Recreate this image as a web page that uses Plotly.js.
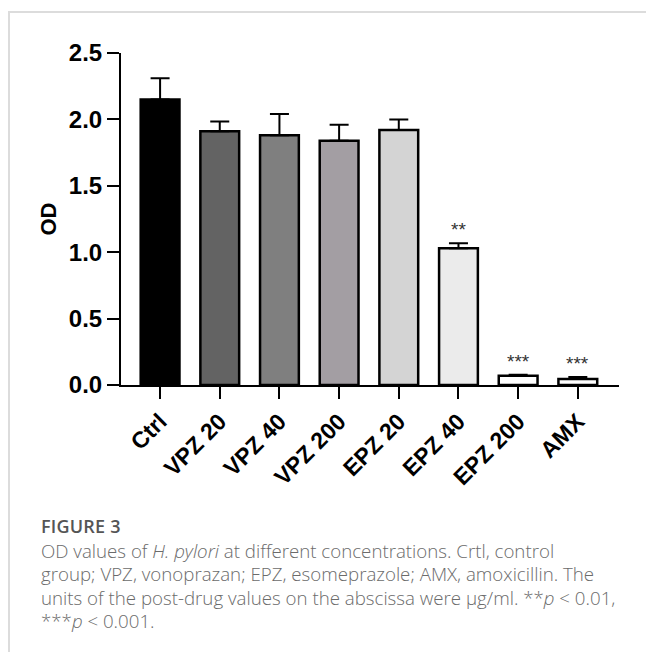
<!DOCTYPE html>
<html>
<head>
<meta charset="utf-8">
<script src="https://cdn.plot.ly/plotly-3.0.1.min.js"></script>
<style>
  html, body { margin: 0; padding: 0; background: #fff; }
  #wrap { position: relative; width: 646px; height: 652px; overflow: hidden; }
  #chart { position: absolute; left: 0; top: 0; width: 646px; height: 652px; }
  .frameTop { position: absolute; left: 9px; top: 11px; width: 637px; height: 2px; background: #dcdcdc; }
  .frameLeft { position: absolute; left: 8px; top: 11px; width: 2px; height: 641px; background: #dcdcdc; }
  #caption { position: absolute; left: 41px; top: 515px; font-family: "Open Sans", Lato, sans-serif; color: #6b6b6b; font-size: 18.7px; line-height: 23.5px; white-space: nowrap; font-weight: 300; }
  #caption .fig { font-weight: 600; color: #555; font-size: 18px; letter-spacing: 0.2px; }
</style>
</head>
<body>
<div id="wrap">
  <div id="chart"></div>
  <div class="frameTop"></div>
  <div class="frameLeft"></div>
  <div id="caption">
    <div class="fig">FIGURE 3</div>
    <div>OD values of <i>H. pylori</i> at different concentrations. Crtl, control</div>
    <div>group; VPZ, vonoprazan; EPZ, esomeprazole; AMX, amoxicillin. The</div>
    <div>units of the post-drug values on the abscissa were µg/ml. **<i>p</i> &lt; 0.01,</div>
    <div>***<i>p</i> &lt; 0.001.</div>
  </div>
</div>
<script>
const categories = ["Ctrl", "VPZ 20", "VPZ 40", "VPZ 200", "EPZ 20", "EPZ 40", "EPZ 200", "AMX"];
const odMean = [2.15, 1.91, 1.88, 1.84, 1.92, 1.03, 0.07, 0.045];
const odSD = [0.16, 0.075, 0.16, 0.12, 0.08, 0.038, 0.008, 0.015];
const significance = ["", "", "", "", "", "**", "***", "***"];
const barColors = ["#000000", "#636363", "#7f7f7f", "#a39ea3", "#d4d4d4", "#ebebeb", "#ffffff", "#ffffff"];

const xIdx = categories.map((c, i) => i);
const fontFam = "Arial, 'Liberation Sans', Helvetica, sans-serif";

const trace = {
  type: "bar",
  x: xIdx,
  y: odMean,
  width: 0.65,
  marker: { color: barColors, line: { color: "#000", width: 2.5 } },
  error_y: {
    type: "data", symmetric: false, array: odSD,
    arrayminus: odSD.map(() => 0),
    color: "#000", thickness: 2, width: 9.5
  },
  hoverinfo: "skip",
  showlegend: false
};

const annotations = [];
categories.forEach((c, i) => {
  if (significance[i]) {
    annotations.push({
      x: i, y: odMean[i] + odSD[i], xref: "x", yref: "y",
      text: significance[i], showarrow: false,
      yanchor: "bottom", yshift: 1,
      font: { family: fontFam, size: 19, color: "#333" }
    });
  }
});

const layout = {
  width: 646, height: 652,
  margin: { l: 121, r: 27, t: 53, b: 267 },
  paper_bgcolor: "rgba(0,0,0,0)",
  plot_bgcolor: "rgba(0,0,0,0)",
  xaxis: {
    range: [-0.655, 7.69],
    tickmode: "array", tickvals: xIdx, ticktext: categories,
    tickangle: -45,
    ticks: "outside", ticklen: 12, tickwidth: 2, tickcolor: "#000",
    showline: true, linecolor: "#000", linewidth: 2,
    showgrid: false, zeroline: false,
    tickfont: { family: fontFam, size: 23, color: "#000", weight: "bold" },
    automargin: false,
    fixedrange: true
  },
  yaxis: {
    range: [0, 2.5],
    tickvals: [0, 0.5, 1.0, 1.5, 2.0, 2.5],
    ticktext: ["0.0", "0.5", "1.0", "1.5", "2.0", "2.5"],
    ticks: "outside", ticklen: 12, tickwidth: 2, tickcolor: "#000",
    showline: true, linecolor: "#000", linewidth: 2,
    showgrid: false, zeroline: false,
    tickfont: { family: fontFam, size: 24, color: "#000", weight: "bold" },
    title: { text: "OD", font: { family: fontFam, size: 22, color: "#000", weight: "bold" }, standoff: 6 },
    automargin: true,
    fixedrange: true
  },
  annotations: annotations,
  font: { family: fontFam }
};

Plotly.newPlot("chart", [trace], layout, { displayModeBar: false, staticPlot: true });
</script>
</body>
</html>
